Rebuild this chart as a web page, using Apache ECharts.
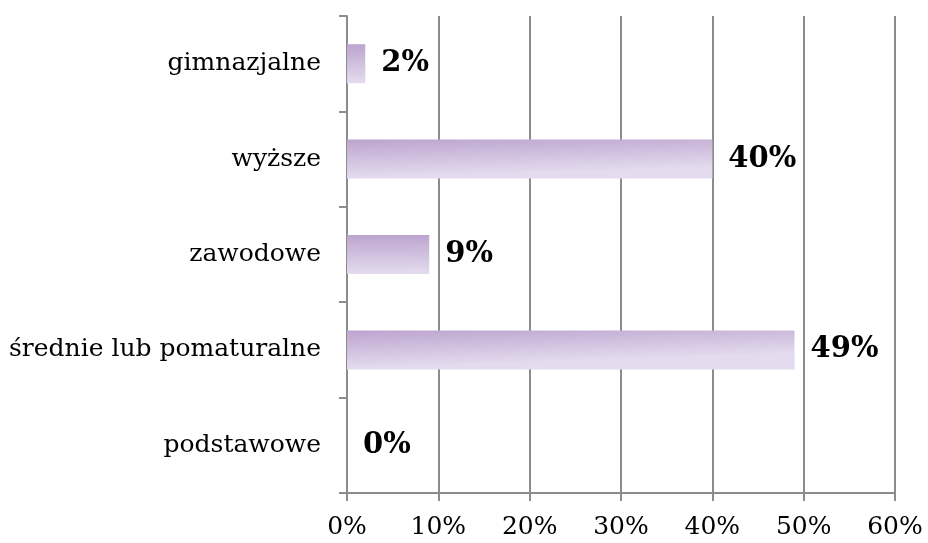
<!DOCTYPE html>
<html><head><meta charset="utf-8">
<script src="https://cdn.jsdelivr.net/npm/echarts@6/dist/echarts.min.js"></script>
<style>html,body{margin:0;padding:0;background:#fff}#c{width:928px;height:543px}</style>
</head><body><div id="c"></div>
<script>
const categories = ['podstawowe', 'średnie lub pomaturalne', 'zawodowe', 'wyższe', 'gimnazjalne'];
const values = [0, 49, 9, 40, 2];
const xTicks = [0, 10, 20, 30, 40, 50, 60];

const FONT = 'DejaVu Serif';
const chart = echarts.init(document.getElementById('c'));
chart.setOption({
  animation: false,
  grid: { left: 347, right: 33, top: 16, bottom: 50, containLabel: false },
  xAxis: {
    type: 'value', min: xTicks[0], max: xTicks[xTicks.length - 1], interval: 10,
    axisLine: { show: true, lineStyle: { color: '#8c8c8c', width: 2 } },
    axisTick: { show: true, length: 8, lineStyle: { color: '#8c8c8c', width: 2 } },
    splitLine: { show: true, lineStyle: { color: '#8c8c8c', width: 2 } },
    axisLabel: { formatter: v => v + '%', color: '#000', fontFamily: FONT, fontSize: 25, margin: 22 }
  },
  yAxis: {
    type: 'category', data: categories,
    axisLine: { show: true, lineStyle: { color: '#8c8c8c', width: 2 } },
    axisTick: { show: true, length: 8, lineStyle: { color: '#8c8c8c', width: 2 } },
    axisLabel: { color: '#000', fontFamily: FONT, fontSize: 25, margin: 26 }
  },
  series: [{
    type: 'bar', data: values, barWidth: 39,
    itemStyle: {
      color: new echarts.graphic.LinearGradient(0, 0, 0.003, 1, [
        { offset: 0, color: '#bca4cf' },
        { offset: 1, color: '#e4dcee' }
      ])
    },
    label: {
      show: true, position: 'right', distance: 16, formatter: p => p.value + '%',
      color: '#000', fontFamily: FONT, fontWeight: 'bold', fontSize: 29
    }
  }]
});
</script></body></html>
